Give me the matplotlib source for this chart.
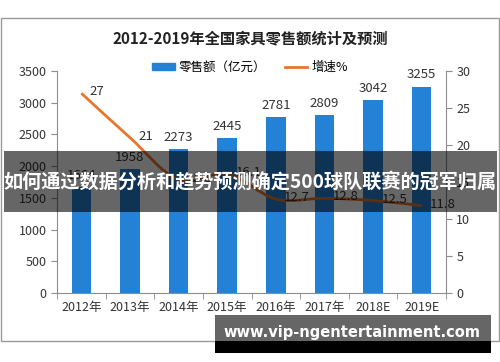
import numpy as np
import matplotlib
matplotlib.use('Agg')
from matplotlib import pyplot as plt
from matplotlib.path import Path
from matplotlib.patches import PathPatch, Rectangle
from matplotlib.lines import Line2D

plt.rcParams['font.family'] = ['Noto Sans CJK SC', 'DejaVu Sans']

years = ['2012年', '2013年', '2014年', '2015年', '2016年', '2017年', '2018E', '2019E']
sales = [1664, 1958, 2273, 2445, 2781, 2809, 3042, 3255]
growth = [27, 21, 15.3, 16.1, 12.7, 12.8, 12.5, 11.8]
growth_labels = ['27', '21', '15.3', '16.1', '12.7', '12.8', '12.5', '11.8']

title = '2012-2019年全国家具零售额统计及预测'
banner = '如何通过数据分析和趋势预测确定500球队联赛的冠军归属'
site = 'www.vip-ngentertainment.com'

bar_color = '#2381d6'
line_color = '#e8762c'
axis_color = '#8c8c8c'


def smooth_path(xs, ys):
    # Excel-like smoothed line: cubic bezier through the points
    pts = np.column_stack([xs, ys]).astype(float)
    verts = [pts[0]]
    codes = [Path.MOVETO]
    n = len(pts)
    for i in range(n - 1):
        p0 = pts[i - 1] if i > 0 else pts[i]
        p1 = pts[i]
        p2 = pts[i + 1]
        p3 = pts[i + 2] if i + 2 < n else pts[i + 1]
        c1 = p1 + (p2 - p0) / 6.0
        c2 = p2 - (p3 - p1) / 6.0
        verts += [c1, c2, p2]
        codes += [Path.CURVE4] * 3
    return Path(verts, codes)


fig = plt.figure(figsize=(5, 3.62), dpi=100)
fig.patches.append(Rectangle((0.5 / 500, (362 - 341) / 362), 498.5 / 500, 323 / 362,
                             transform=fig.transFigure, fill=False,
                             edgecolor='#9a9a9a', linewidth=1.0))

ax = fig.add_axes([57 / 500, (362 - 293) / 362, (446 - 57) / 500, (293 - 71) / 362])
x = np.arange(len(years))
ax.bar(x, sales, width=0.4, color=bar_color, zorder=2)
ax.set_xlim(-0.5, len(years) - 0.5)
ax.set_ylim(0, 3500)
ax.set_yticks(np.arange(0, 3501, 500))
ax.set_xticks(x)
ax.set_xticklabels(years)
ax.set_xticks(np.arange(-0.5, len(years), 1), minor=True)
ax.tick_params(axis='x', which='major', length=0, labelsize=9, pad=6, colors='#333333')
ax.tick_params(axis='x', which='minor', length=4, color=axis_color, direction='out')
ax.tick_params(axis='y', length=4, color=axis_color, labelsize=9, labelcolor='#333333')
for s in ['top', 'right']:
    ax.spines[s].set_visible(False)
for s in ['left', 'bottom']:
    ax.spines[s].set_color(axis_color)

for i, v in enumerate(sales):
    ax.text(i, v + 80, str(v), ha='center', va='bottom', fontsize=9.5, color='#333333')

ax2 = ax.twinx()
ax2.set_ylim(0, 30)
ax2.set_yticks(np.arange(0, 31, 5))
ax2.tick_params(axis='y', length=4, color=axis_color, labelsize=9, labelcolor='#333333')
for s in ['top', 'left', 'bottom']:
    ax2.spines[s].set_visible(False)
ax2.spines['right'].set_color(axis_color)
ax2.add_patch(PathPatch(smooth_path(x, growth), fill=False, edgecolor=line_color,
                        linewidth=2, zorder=3))
for i, v in enumerate(growth):
    ax2.annotate(growth_labels[i], (i, v), xytext=(6, 1), textcoords='offset points',
                 ha='left', va='center', fontsize=9.5, color='#333333')

fig.text(0.5, (362 - 38) / 362, title, ha='center', va='center', fontsize=11,
         fontweight='bold', color='#222222')

handles = [Rectangle((0, 0), 1, 1, color=bar_color),
           Line2D([0], [0], color=line_color, linewidth=2)]
fig.legend(handles, ['零售额（亿元）', '增速%'], loc='center',
           bbox_to_anchor=(0.5, (362 - 67) / 362), ncol=2, frameon=False,
           fontsize=9, handlelength=1.8, handleheight=0.5, columnspacing=1.5,
           handletextpad=0.3)

# dark overlay with the headline
fig.patches.append(Rectangle((4 / 500, (362 - 212) / 362), 493 / 500, 61 / 362,
                             transform=fig.transFigure, facecolor='black',
                             alpha=0.6, edgecolor='none', zorder=5))
fig.text(0.5, (362 - 182) / 362, banner, ha='center', va='center', fontsize=13.8,
         fontweight='bold', color='white', zorder=6)

# site banner at the bottom
fig.patches.append(Rectangle((215 / 500, (362 - 341) / 362), 276 / 500, 26 / 362,
                             transform=fig.transFigure, facecolor='#666666',
                             edgecolor='none', zorder=5))
fig.patches.append(Rectangle((215 / 500, (362 - 353) / 362), 276 / 500, 12 / 362,
                             transform=fig.transFigure, facecolor='black',
                             edgecolor='none', zorder=5))
fig.text(352 / 500, (362 - 332) / 362, site, ha='center', va='center', fontsize=10.5,
         fontweight='bold', color='white', family='DejaVu Sans', zorder=6)

fig.savefig('out.png', dpi=100)
